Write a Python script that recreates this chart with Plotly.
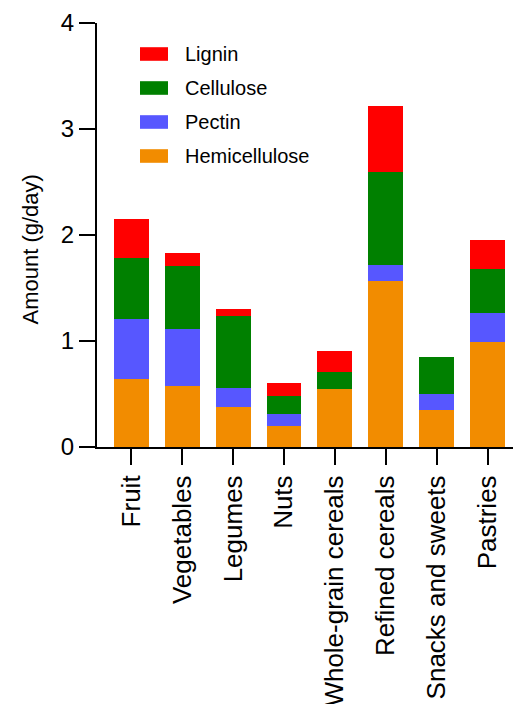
import plotly.graph_objects as go

# Daily fibre-component intake by food group (g/day)
categories = ["Fruit", "Vegetables", "Legumes", "Nuts", "Whole-grain cereals",
              "Refined cereals", "Snacks and sweets", "Pastries"]
hemicellulose = [0.64, 0.58, 0.38, 0.20, 0.55, 1.57, 0.35, 0.99]
pectin = [0.57, 0.53, 0.18, 0.115, 0.0, 0.15, 0.15, 0.27]
cellulose = [0.57, 0.60, 0.68, 0.165, 0.16, 0.87, 0.35, 0.42]
lignin = [0.37, 0.12, 0.06, 0.12, 0.20, 0.63, 0.0, 0.27]

y_ticks = [0, 1, 2, 3, 4]

series = [
    ("Hemicellulose", hemicellulose, "#F28C00"),
    ("Pectin", pectin, "#5757FF"),
    ("Cellulose", cellulose, "#008000"),
    ("Lignin", lignin, "#FF0000"),
]

FONT = "Liberation Sans, Arial, sans-serif"

fig = go.Figure()
for name, vals, color in series:
    fig.add_trace(go.Bar(
        x=categories, y=vals, name=name,
        marker=dict(color=color, line=dict(width=0)),
        showlegend=False,
    ))

# Hand-drawn legend: wide colour swatches with labels, Lignin on top
legend_rows = list(reversed(series))
row_y0 = 54      # pixel centre of first row from top
row_step = 34
plot_top, plot_h = 23, 424
plot_left, plot_w = 97, 416
shapes = []
annotations = []
for i, (name, _, color) in enumerate(legend_rows):
    yc = row_y0 + i * row_step
    py = 1 - (yc - plot_top) / plot_h
    half = 6.8 / plot_h
    x0 = (140 - plot_left) / plot_w
    x1 = (168 - plot_left) / plot_w
    shapes.append(dict(type="rect", xref="paper", yref="paper",
                       x0=x0, x1=x1, y0=py - half, y1=py + half,
                       fillcolor=color, line=dict(width=0)))
    annotations.append(dict(xref="paper", yref="paper",
                            x=(183 - plot_left) / plot_w, y=py,
                            xanchor="left", yanchor="middle",
                            text=name, showarrow=False,
                            font=dict(family=FONT, size=20, color="black")))

# Y-axis title
annotations.append(dict(xref="paper", yref="paper",
                        x=(30 - plot_left) / plot_w, y=(446.5 - 249) / plot_h,
                        xanchor="center", yanchor="middle", textangle=-90,
                        text="Amount (g/day)", showarrow=False,
                        font=dict(family=FONT, size=22, color="black")))

fig.update_layout(
    barmode="stack",
    bargap=0.314,
    width=513, height=704,
    margin=dict(l=97, r=0, t=23, b=257, pad=0, autoexpand=False),
    plot_bgcolor="white",
    paper_bgcolor="white",
    font=dict(family=FONT, color="black"),
    shapes=shapes,
    annotations=annotations,
    xaxis=dict(
        range=[-0.676, 7.5],
        automargin=False,
        showline=True, linecolor="black", linewidth=2,
        ticks="outside", ticklen=16, tickwidth=2, tickcolor="black",
        tickangle=-90, tickfont=dict(family=FONT, size=26, color="black"),
        showgrid=False, zeroline=False,
    ),
    yaxis=dict(
        range=[0, 4],
        automargin=False,
        tickvals=y_ticks,
        showline=True, linecolor="black", linewidth=2,
        ticks="outside", ticklen=16, tickwidth=2, tickcolor="black",
        tickfont=dict(family=FONT, size=24, color="black"),
        showgrid=False, zeroline=False,
    ),
)

fig.write_html("out.html")
